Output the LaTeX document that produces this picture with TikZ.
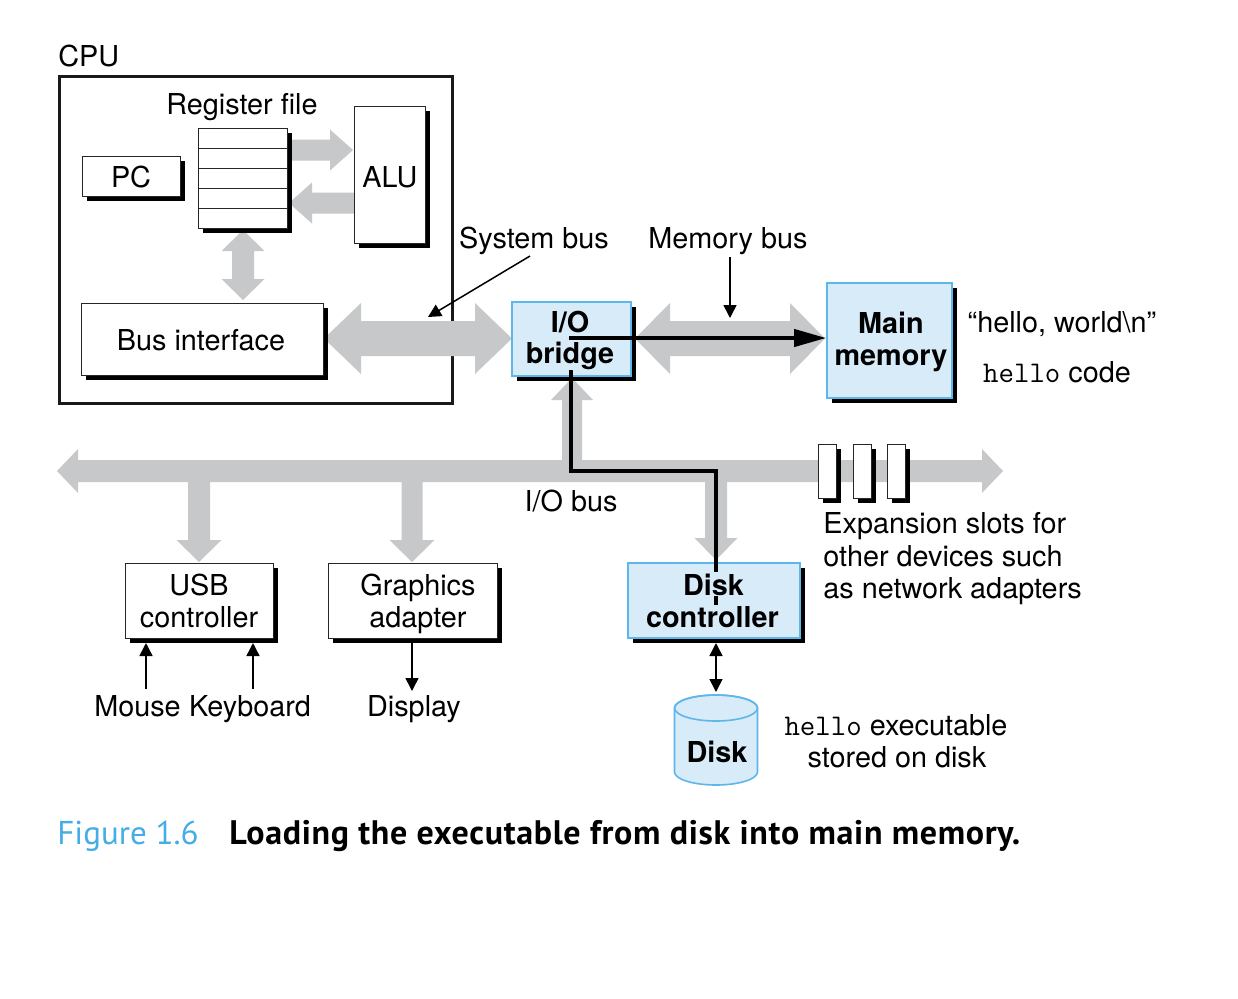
\documentclass[tikz,border=0pt]{standalone}
\usepackage{fontspec}
\setmainfont{TeX Gyre Heros}
\newfontfamily\capfont{PT Sans}
\usetikzlibrary{arrows.meta,shadows}
\definecolor{busgray}{HTML}{C7C8CA}
\definecolor{bfill}{HTML}{D8EBF8}
\definecolor{bline}{HTML}{5DB7EA}
\definecolor{capblue}{HTML}{45ADE5}
% fat gray arrows (all numbers in px of the reference, y downward)
\newcommand\dblH[6]{% x1 x2 y s h L
 \fill[busgray] (#1,#3) -- ({#1+#6},{#3-#5}) -- ({#1+#6},{#3-#4}) -- ({#2-#6},{#3-#4}) -- ({#2-#6},{#3-#5}) -- (#2,#3) -- ({#2-#6},{#3+#5}) -- ({#2-#6},{#3+#4}) -- ({#1+#6},{#3+#4}) -- ({#1+#6},{#3+#5}) -- cycle;}
\newcommand\dblV[6]{% x y1 y2 s h L
 \fill[busgray] (#1,#2) -- ({#1+#5},{#2+#6}) -- ({#1+#4},{#2+#6}) -- ({#1+#4},{#3-#6}) -- ({#1+#5},{#3-#6}) -- (#1,#3) -- ({#1-#5},{#3-#6}) -- ({#1-#4},{#3-#6}) -- ({#1-#4},{#2+#6}) -- ({#1-#5},{#2+#6}) -- cycle;}
\newcommand\sglR[6]{% tail tip y s h L
 \fill[busgray] (#1,{#3-#4}) -- ({#2-#6},{#3-#4}) -- ({#2-#6},{#3-#5}) -- (#2,#3) -- ({#2-#6},{#3+#5}) -- ({#2-#6},{#3+#4}) -- (#1,{#3+#4}) -- cycle;}
\newcommand\sglL[6]{% tip tail y s h L
 \fill[busgray] (#2,{#3-#4}) -- ({#1+#6},{#3-#4}) -- ({#1+#6},{#3-#5}) -- (#1,#3) -- ({#1+#6},{#3+#5}) -- ({#1+#6},{#3+#4}) -- (#2,{#3+#4}) -- cycle;}
\newcommand\sglD[6]{% x tail tip s h L
 \fill[busgray] ({#1-#4},#2) -- ({#1-#4},{#3-#6}) -- ({#1-#5},{#3-#6}) -- (#1,#3) -- ({#1+#5},{#3-#6}) -- ({#1+#4},{#3-#6}) -- ({#1+#4},#2) -- cycle;}
\newcommand\sglU[6]{% x tip tail s h L
 \fill[busgray] ({#1-#4},#3) -- ({#1-#4},{#2+#6}) -- ({#1-#5},{#2+#6}) -- (#1,#2) -- ({#1+#5},{#2+#6}) -- ({#1+#4},{#2+#6}) -- ({#1+#4},#3) -- cycle;}
\newcommand\monohello{{\ttfamily\fontsize{15}{17}\selectfont hello}}
\tikzset{
 shad/.style={drop shadow={shadow xshift=2.3pt,shadow yshift=-2.3pt,fill=black,opacity=1}},
 wbox/.style={draw=black!85,line width=0.5pt,fill=white,shad,inner sep=0pt},
 bbox/.style={draw=bline,line width=0.8pt,fill=bfill,shad,inner sep=0pt},
 lbl/.style={font=\fontsize{14.4}{17}\selectfont,inner sep=0pt,anchor=base},
 blbl/.style={font=\fontsize{14.4}{17}\selectfont\bfseries,inner sep=0.6pt,anchor=base,fill=bfill},
 thinarrow/.style={line width=0.75pt,-{Triangle[length=6.5pt,width=6.5pt]}},
 thinboth/.style={line width=0.75pt,{Triangle[length=6.5pt,width=6.5pt]}-{Triangle[length=6.5pt,width=6.5pt]}},
 blkpath/.style={line width=2pt,line join=miter,-{Triangle[length=16pt,width=8.5pt]}},
}
\begin{document}
\begin{tikzpicture}[x=0.5pt,y=-0.5pt]
\useasboundingbox (0,0) rectangle (1238,998);
\fill[white] (0,0) rectangle (1238,998);

% CPU
\node[lbl,anchor=base west] (cpulbl) at (58,66) {CPU};
\node[draw=black!90,line width=1.5pt,minimum width=196.5pt,minimum height=163.5pt,inner sep=0pt] (cpu) at (256,240) {};

% gray arrows
\sglR{291}{353}{150}{10.5}{20.5}{23}
\sglL{289}{354}{203}{10.5}{20.5}{23}
\dblV{243}{230}{300}{11}{21.5}{21}
\dblH{324}{512}{338.5}{17.5}{35.5}{37}
\dblH{635}{825}{338.5}{17.5}{35.5}{35}
\dblH{57}{1003}{471}{11}{22}{21}
\sglU{572}{378}{462}{10}{21}{22}
\sglD{199}{480}{562}{11}{22.5}{22}
\sglD{412}{480}{562}{10.5}{22.5}{22}
\sglD{716}{480}{560}{11}{21.5}{22}

% boxes
\node[wbox,minimum width=49pt,minimum height=20pt] (pc) at (131,176) {};
\node[wbox,minimum width=44.5pt,minimum height=50pt] (reg) at (242.5,178) {};
\foreach \yy in {148,168,188,208} \draw[black!85,line width=0.5pt] (198,\yy) -- (287,\yy);
\node[wbox,minimum width=35.5pt,minimum height=68.5pt] (alu) at (389.5,174.5) {};
\node[wbox,minimum width=121pt,minimum height=36pt] (busif) at (202,339) {};
\node[bbox,minimum width=59.5pt,minimum height=37pt] (bridge) at (571.5,339) {};
\node[bbox,minimum width=62.5pt,minimum height=57.5pt] (mem) at (889.5,340.5) {};
\node[wbox,minimum width=74pt,minimum height=37.5pt] (usb) at (199,600.5) {};
\node[wbox,minimum width=84.5pt,minimum height=37.5pt] (gfx) at (412.5,600.5) {};
\node[bbox,minimum width=86pt,minimum height=37.5pt] (dc) at (714,600.5) {};
\node[wbox,minimum width=9pt,minimum height=27pt] (s1) at (827,471) {};
\node[wbox,minimum width=9pt,minimum height=27pt] (s2) at (862,471) {};
\node[wbox,minimum width=9pt,minimum height=27pt] (s3) at (896,471) {};

% disk
\filldraw[fill=bfill,draw=bline,line width=0.8pt] (674.5,708) -- (674.5,772) arc[start angle=180,end angle=0,x radius=41.5,y radius=13] -- (757.5,708) arc[start angle=0,end angle=-180,x radius=41.5,y radius=13] -- cycle;
\draw[bline,line width=0.8pt] (716,708) ellipse[x radius=41.5,y radius=13];
\coordinate (disktop) at (716,692);

% black data path
\coordinate (p0) at (716,606);
\coordinate (p1) at (716,471);
\coordinate (p2) at (571,471);
\coordinate (p3) at (571,338);
\draw[blkpath] (p0) -- (p1) -- (p2) -- (p3) -- (p3 -| mem.west);

% labels in boxes
\node[lbl] at (242,114) {Register file};
\node[lbl] at (131,187) {PC};
\node[lbl] at (390,187) {ALU};
\node[lbl] at (201,350) {Bus interface};
\node[blbl] at (570,332) {I/O};
\node[blbl] at (570,363) {bridge};
\node[blbl] at (891,333) {Main};
\node[blbl] at (891,365) {memory};
\node[lbl] at (199,595) {USB};
\node[lbl] at (199,627) {controller};
\node[lbl] at (418,595) {Graphics};
\node[lbl] at (418,627) {adapter};
\node[blbl] at (713.5,595) {Disk};
\node[blbl] at (712.5,627) {controller};
\node[blbl] at (717,762) {Disk};

% outside labels
\node[lbl] (sysbus) at (534,248) {System bus};
\node[lbl] (membus) at (728,248) {Memory bus};
\node[lbl] (iobus) at (571,511) {I/O bus};
\node[lbl] (hw) at (1062,332) {“hello, world\textbackslash n”};
\node[lbl] (hc) at (1057,382) {\monohello{} code};
\node[lbl] (mouse) at (137.5,716) {Mouse};
\node[lbl] (kbd) at (250,716) {Keyboard};
\node[lbl] (disp) at (414,716) {Display};
\node[lbl] (he) at (896,735) {\monohello{} executable};
\node[lbl] (sd) at (897,767) {stored on disk};
\node[lbl,anchor=base west] (ex1) at (823,533) {Expansion slots for};
\node[lbl,anchor=base west] (ex2) at (823,566) {other devices such};
\node[lbl,anchor=base west] (ex3) at (823,598) {as network adapters};

% thin arrows
\coordinate (sbp) at (530,256);
\coordinate (sbt) at (428,317);
\draw[thinarrow] (sbp) -- (sbt);
\coordinate (mbp) at (730,257);
\coordinate (mbt) at (730,318);
\draw[thinarrow] (mbp) -- (mbt);
\coordinate (mt) at (146,643);
\coordinate (mb) at (146,689);
\draw[thinarrow] (mb) -- (mt);
\coordinate (kt) at (253,643);
\coordinate (kb) at (253,689);
\draw[thinarrow] (kb) -- (kt);
\coordinate (dt) at (412,643);
\coordinate (db) at (412,691);
\draw[thinarrow] (dt) -- (db);
\coordinate (dct) at (716,643);
\draw[thinboth] (dct) -- (disktop);

% caption
\node[anchor=base west,inner sep=0pt,font=\capfont\fontsize{16.5}{19}\selectfont,text=capblue] (fig) at (57,844) {Figure 1.6};
\node[anchor=base west,inner sep=0pt,font=\capfont\fontsize{17}{19}\selectfont\bfseries\addfontfeature{LetterSpace=2}] (cap) at (229,844) {Loading the executable from disk into main memory.};
\end{tikzpicture}
\end{document}
